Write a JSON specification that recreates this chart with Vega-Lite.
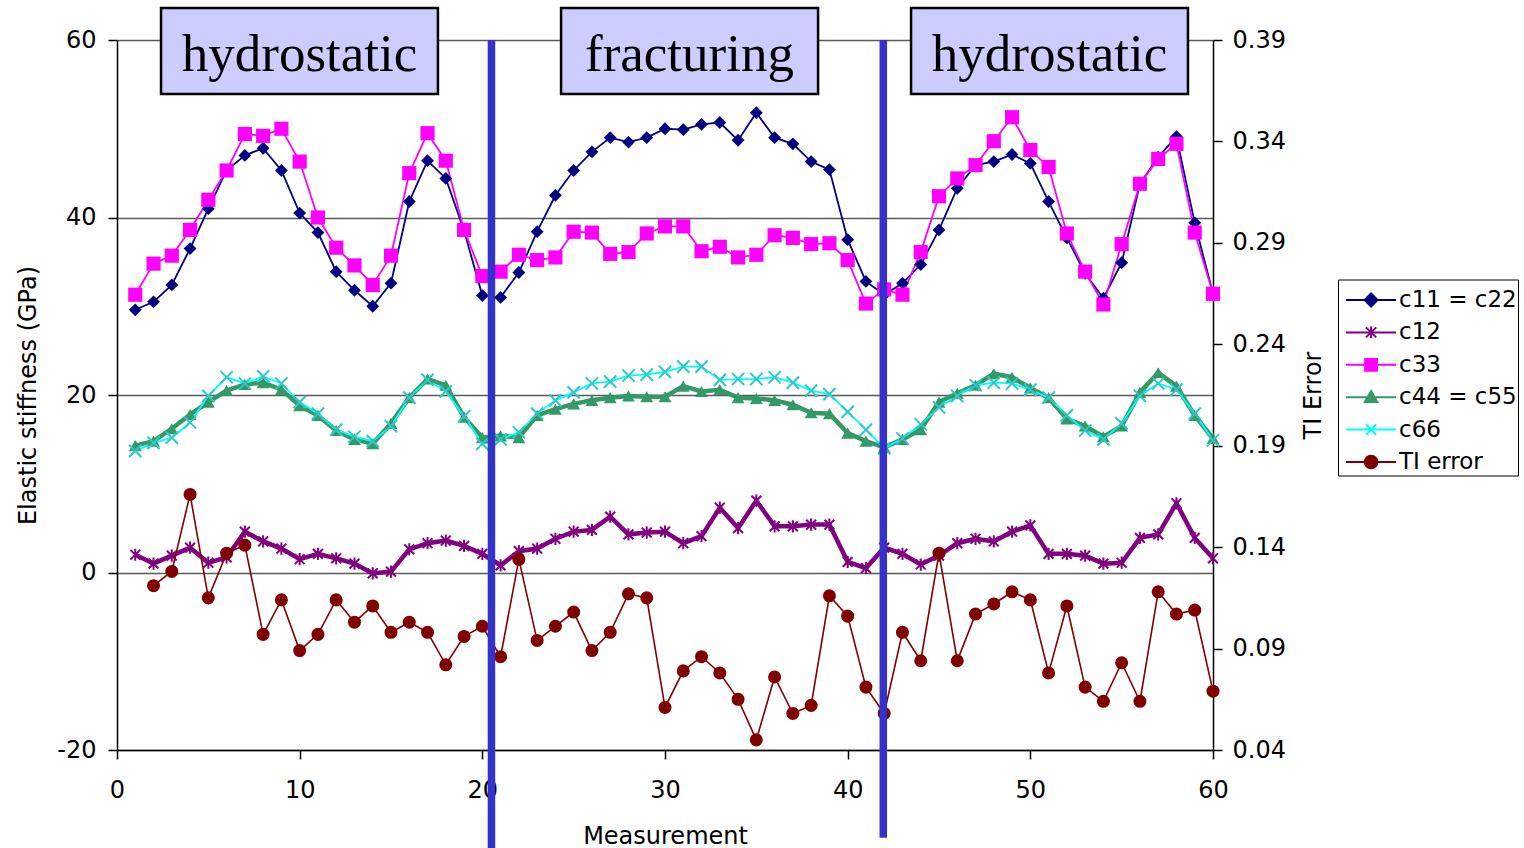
{
  "$schema": "https://vega.github.io/schema/vega-lite/v6.json",
  "width": 1096,
  "height": 710,
  "autosize": {"type": "none"},
  "padding": {"left": 117, "top": 40, "right": 311, "bottom": 98},
  "background": "white",
  "config": {
    "view": {"stroke": null},
    "font": "DejaVu Sans",
    "axis": {
      "labelFont": "DejaVu Sans", "labelFontSize": 24, "labelColor": "black", "labelFlush": false,
      "titleFont": "DejaVu Sans", "titleFontSize": 24, "titleFontWeight": "normal", "titleColor": "black",
      "domainColor": "black", "domainWidth": 1.5, "tickColor": "black", "tickWidth": 1.5, "tickSize": 9
    }
  },
  "datasets": {
    "main": [
      {"m":1,"c11":29.6,"c12":2.0,"c33":31.3,"c44":14.3,"c66":13.7,"ti":null},
      {"m":2,"c11":30.5,"c12":1.0,"c33":34.8,"c44":14.8,"c66":14.6,"ti":0.121},
      {"m":3,"c11":32.4,"c12":1.9,"c33":35.7,"c44":16.2,"c66":15.2,"ti":0.128},
      {"m":4,"c11":36.5,"c12":2.8,"c33":38.6,"c44":17.8,"c66":16.9,"ti":0.166},
      {"m":5,"c11":41.0,"c12":1.1,"c33":42.0,"c44":19.2,"c66":19.9,"ti":0.115},
      {"m":6,"c11":45.3,"c12":1.7,"c33":45.3,"c44":20.5,"c66":22.0,"ti":0.137},
      {"m":7,"c11":47.0,"c12":4.6,"c33":49.4,"c44":21.2,"c66":21.3,"ti":0.141},
      {"m":8,"c11":47.8,"c12":3.5,"c33":49.2,"c44":21.4,"c66":22.1,"ti":0.097},
      {"m":9,"c11":45.3,"c12":2.7,"c33":50.0,"c44":20.6,"c66":21.3,"ti":0.114},
      {"m":10,"c11":40.5,"c12":1.5,"c33":46.3,"c44":18.8,"c66":19.2,"ti":0.089},
      {"m":11,"c11":38.3,"c12":2.1,"c33":40.0,"c44":17.7,"c66":17.9,"ti":0.097},
      {"m":12,"c11":33.9,"c12":1.6,"c33":36.6,"c44":16.0,"c66":16.1,"ti":0.114},
      {"m":13,"c11":31.8,"c12":1.0,"c33":34.6,"c44":15.0,"c66":15.3,"ti":0.103},
      {"m":14,"c11":30.0,"c12":-0.1,"c33":32.4,"c44":14.5,"c66":14.8,"ti":0.111},
      {"m":15,"c11":32.6,"c12":0.1,"c33":35.7,"c44":16.8,"c66":16.5,"ti":0.098},
      {"m":16,"c11":41.8,"c12":2.6,"c33":45.0,"c44":19.7,"c66":19.7,"ti":0.103},
      {"m":17,"c11":46.4,"c12":3.3,"c33":49.5,"c44":21.8,"c66":21.7,"ti":0.098},
      {"m":18,"c11":44.4,"c12":3.6,"c33":46.4,"c44":21.1,"c66":20.4,"ti":0.082},
      {"m":19,"c11":38.5,"c12":3.0,"c33":38.6,"c44":17.5,"c66":17.6,"ti":0.096},
      {"m":20,"c11":31.2,"c12":2.1,"c33":33.4,"c44":15.2,"c66":14.5,"ti":0.101},
      {"m":21,"c11":31.0,"c12":0.8,"c33":33.9,"c44":15.4,"c66":15.0,"ti":0.086},
      {"m":22,"c11":33.8,"c12":2.4,"c33":35.8,"c44":15.2,"c66":15.8,"ti":0.134},
      {"m":23,"c11":38.4,"c12":2.7,"c33":35.2,"c44":17.7,"c66":17.9,"ti":0.094},
      {"m":24,"c11":42.5,"c12":3.8,"c33":35.5,"c44":18.4,"c66":19.4,"ti":0.101},
      {"m":25,"c11":45.3,"c12":4.6,"c33":38.4,"c44":19.0,"c66":20.3,"ti":0.108},
      {"m":26,"c11":47.4,"c12":4.8,"c33":38.3,"c44":19.4,"c66":21.3,"ti":0.089},
      {"m":27,"c11":49.0,"c12":6.3,"c33":35.9,"c44":19.7,"c66":21.5,"ti":0.098},
      {"m":28,"c11":48.5,"c12":4.3,"c33":36.1,"c44":19.9,"c66":22.2,"ti":0.117},
      {"m":29,"c11":49.0,"c12":4.5,"c33":38.2,"c44":19.8,"c66":22.3,"ti":0.115},
      {"m":30,"c11":50.0,"c12":4.6,"c33":39.0,"c44":19.8,"c66":22.6,"ti":0.061},
      {"m":31,"c11":49.9,"c12":3.3,"c33":39.0,"c44":21.0,"c66":23.2,"ti":0.079},
      {"m":32,"c11":50.5,"c12":4.1,"c33":36.2,"c44":20.4,"c66":23.2,"ti":0.086},
      {"m":33,"c11":50.7,"c12":7.3,"c33":36.7,"c44":20.6,"c66":21.7,"ti":0.078},
      {"m":34,"c11":48.7,"c12":5.0,"c33":35.5,"c44":19.7,"c66":21.8,"ti":0.065},
      {"m":35,"c11":51.8,"c12":8.1,"c33":35.8,"c44":19.6,"c66":21.8,"ti":0.045},
      {"m":36,"c11":49.0,"c12":5.2,"c33":38.0,"c44":19.4,"c66":22.0,"ti":0.076},
      {"m":37,"c11":48.3,"c12":5.2,"c33":37.7,"c44":18.9,"c66":21.4,"ti":0.058},
      {"m":38,"c11":46.3,"c12":5.4,"c33":37.0,"c44":18.0,"c66":20.5,"ti":0.062},
      {"m":39,"c11":45.4,"c12":5.4,"c33":37.1,"c44":17.9,"c66":20.1,"ti":0.116},
      {"m":40,"c11":37.5,"c12":1.2,"c33":35.2,"c44":15.7,"c66":18.1,"ti":0.106},
      {"m":41,"c11":32.8,"c12":0.5,"c33":30.3,"c44":14.8,"c66":16.1,"ti":0.071},
      {"m":42,"c11":31.3,"c12":2.8,"c33":31.9,"c44":14.1,"c66":14.0,"ti":0.058},
      {"m":43,"c11":32.6,"c12":2.1,"c33":31.3,"c44":15.0,"c66":15.1,"ti":0.098},
      {"m":44,"c11":34.7,"c12":0.9,"c33":36.1,"c44":16.1,"c66":16.7,"ti":0.084},
      {"m":45,"c11":38.6,"c12":1.9,"c33":42.4,"c44":19.2,"c66":18.6,"ti":0.137},
      {"m":46,"c11":43.3,"c12":3.3,"c33":44.4,"c44":20.2,"c66":19.9,"ti":0.084},
      {"m":47,"c11":45.9,"c12":3.8,"c33":45.9,"c44":21.1,"c66":21.1,"ti":0.107},
      {"m":48,"c11":46.3,"c12":3.5,"c33":48.6,"c44":22.4,"c66":21.4,"ti":0.112},
      {"m":49,"c11":47.1,"c12":4.6,"c33":51.3,"c44":22.0,"c66":21.3,"ti":0.118},
      {"m":50,"c11":46.1,"c12":5.3,"c33":47.6,"c44":20.8,"c66":20.6,"ti":0.114},
      {"m":51,"c11":41.8,"c12":2.1,"c33":45.7,"c44":19.7,"c66":19.7,"ti":0.078},
      {"m":52,"c11":37.7,"c12":2.1,"c33":38.2,"c44":17.3,"c66":17.7,"ti":0.111},
      {"m":53,"c11":33.7,"c12":1.9,"c33":33.9,"c44":16.5,"c66":16.0,"ti":0.071},
      {"m":54,"c11":30.9,"c12":1.0,"c33":30.2,"c44":15.3,"c66":15.0,"ti":0.064},
      {"m":55,"c11":34.9,"c12":1.1,"c33":37.0,"c44":16.5,"c66":16.8,"ti":0.083},
      {"m":56,"c11":43.8,"c12":3.9,"c33":43.8,"c44":20.3,"c66":19.9,"ti":0.064},
      {"m":57,"c11":46.8,"c12":4.3,"c33":46.6,"c44":22.5,"c66":21.3,"ti":0.118},
      {"m":58,"c11":49.1,"c12":7.8,"c33":48.3,"c44":21.0,"c66":20.6,"ti":0.107},
      {"m":59,"c11":39.4,"c12":3.9,"c33":38.3,"c44":17.7,"c66":17.9,"ti":0.109},
      {"m":60,"c11":31.4,"c12":1.6,"c33":31.4,"c44":15.1,"c66":14.9,"ti":0.069}
    ],
    "phases": [
      {"label":"hydrostatic","x1":2.41,"x2":17.57,"xm":9.99,"top":63.6,"bot":53.92,"ty":56.5},
      {"label":"fracturing","x1":24.31,"x2":38.38,"xm":31.34,"top":63.6,"bot":53.92,"ty":56.5},
      {"label":"hydrostatic","x1":43.47,"x2":58.63,"xm":51.05,"top":63.6,"bot":53.92,"ty":56.5}
    ],
    "dividers": [
      {"m":20.5,"top":60,"bot":-31.05},
      {"m":41.95,"top":60,"bot":-29.9}
    ]
  },
  "data": {"name": "main"},
  "layer": [
    {
      "transform": [{"fold": ["c11","c12","c33","c44","c66"], "as": ["key","v"]}],
      "layer": [
        {
          "mark": {"type": "line"},
          "encoding": {
            "x": {"field": "m", "type": "quantitative", "scale": {"domain": [0,60], "nice": false},
                  "axis": {"values": [0,10,20,30,40,50,60], "title": "Measurement", "grid": false, "labelPadding": 19, "titlePadding": 22}},
            "y": {"field": "v", "type": "quantitative", "scale": {"domain": [-20,60], "nice": false},
                  "axis": {"values": [-20,0,20,40,60], "labelExpr": "'' + datum.value", "title": "Elastic stiffness (GPa)", "grid": true, "gridColor": "#5a5a5a", "gridWidth": 1.5,
                           "labelPadding": 12, "titlePadding": 16}},
            "color": {"field": "key", "type": "nominal",
                      "scale": {"domain": ["c11","c12","c33","c44","c66","ti"], "range": ["#000080","#800080","#FF00FF","#339966","#00FFFF","#800000"]},
                      "legend": {
                        "orient": "none", "legendX": 1221, "legendY": 239.5, "title": null,
                        "padding": 1, "strokeColor": "black", "fillColor": "white",
                        "symbolSize": 1369, "symbolStrokeWidth": 2, "rowPadding": 0.4,
                        "labelFont": "DejaVu Sans", "labelFontSize": 23, "labelColor": "black", "labelOffset": 21, "labelLimit": 300,
                        "labelExpr": "datum.label=='c11'?'c11 = c22':datum.label=='c44'?'c44 = c55':datum.label=='ti'?'TI error':datum.label",
                        "encode": {"symbols": {"update": {
                          "shape": {"signal": "datum.value=='c11'?'M-0.68,0H2.03M0.68,-0.35L1.03,0L0.68,0.35L0.33,0Z':datum.value=='c12'?'M-0.68,0H2.03M0.68,-0.32V0.32M0.4,-0.27L0.96,0.27M0.4,0.27L0.96,-0.27':datum.value=='c33'?'M-0.68,0H2.03M0.36,-0.32H1.0V0.32H0.36Z':datum.value=='c44'?'M-0.68,0H2.03M0.68,-0.34L1.02,0.26L0.34,0.26Z':datum.value=='c66'?'M-0.68,0H2.03M0.41,-0.28L0.95,0.28M0.41,0.28L0.95,-0.28':'M-0.68,0H2.03M0.34,0A0.34,0.34 0 1 0 1.02,0A0.34,0.34 0 1 0 0.34,0Z'"},
                          "fill": {"scale": "color", "field": "value"},
                          "stroke": {"scale": "color", "field": "value"}
                        }}}
                      }},
            "strokeWidth": {"condition": {"test": "datum.key==='c12'||datum.key==='c44'", "value": 4.5}, "value": 1.8}
          }
        },
        {
          "transform": [{"filter": {"field": "key", "oneOf": ["c11","c33","c44"]}}],
          "mark": {"type": "point", "filled": true, "opacity": 1},
          "encoding": {
            "x": {"field": "m", "type": "quantitative"},
            "y": {"field": "v", "type": "quantitative"},
            "color": {"field": "key", "type": "nominal", "legend": null},
            "shape": {"field": "key", "type": "nominal", "scale": {"domain": ["c11","c33","c44"], "range": ["diamond","square","triangle-up"]}, "legend": null},
            "size": {"condition": {"test": "datum.key==='c33'", "value": 200}, "value": 165}
          }
        },
        {
          "transform": [{"filter": {"field": "key", "oneOf": ["c12","c66"]}}],
          "mark": {"type": "point", "filled": false, "opacity": 1, "strokeWidth": 2},
          "encoding": {
            "x": {"field": "m", "type": "quantitative"},
            "y": {"field": "v", "type": "quantitative"},
            "color": {"field": "key", "type": "nominal", "legend": null,
                      "condition": {"test": "datum.key==='c66'", "value": "#2EC8C8"}},
            "shape": {"value": "M0,-1V1M-0.8,-0.8L0.8,0.8M-0.8,0.8L0.8,-0.8",
                      "condition": {"test": "datum.key==='c66'", "value": "M-1,-1L1,1M-1,1L1,-1"}},
            "size": {"value": 150}
          }
        }
      ]
    },
    {
      "layer": [
        {
          "mark": {"type": "line", "strokeWidth": 1.6},
          "encoding": {
            "x": {"field": "m", "type": "quantitative"},
            "y": {"field": "ti", "type": "quantitative", "scale": {"domain": [0.04,0.39], "nice": false, "zero": false},
                  "axis": {"orient": "right", "values": [0.04,0.09,0.14,0.19,0.24,0.29,0.34,0.39], "format": ".2f", "title": "TI Error",
                           "labelPadding": 10, "titlePadding": 16, "titleAngle": 270, "titleBaseline": "top", "grid": false}},
            "color": {"datum": "ti", "type": "nominal", "legend": null}
          }
        },
        {
          "mark": {"type": "point", "filled": true, "opacity": 1, "shape": "circle", "size": 170},
          "encoding": {
            "x": {"field": "m", "type": "quantitative"},
            "y": {"field": "ti", "type": "quantitative"},
            "color": {"datum": "ti", "type": "nominal", "legend": null}
          }
        }
      ]
    },
    {
      "layer": [
        {
          "data": {"name": "dividers"},
          "mark": {"type": "rule", "color": "#3333CC", "strokeWidth": 7.5},
          "encoding": {
            "x": {"field": "m", "type": "quantitative"},
            "y": {"field": "top", "type": "quantitative", "scale": {"domain": [-20,60], "nice": false}, "axis": null},
            "y2": {"field": "bot"}
          }
        },
        {
          "data": {"name": "phases"},
          "mark": {"type": "rect", "fill": "#CCCCFF", "stroke": "black", "strokeWidth": 2.5},
          "encoding": {
            "x": {"field": "x1", "type": "quantitative"},
            "x2": {"field": "x2"},
            "y": {"field": "top", "type": "quantitative"},
            "y2": {"field": "bot"}
          }
        },
        {
          "data": {"name": "phases"},
          "mark": {"type": "text", "font": "Liberation Serif", "fontSize": 53, "color": "black", "align": "center", "baseline": "alphabetic"},
          "encoding": {
            "x": {"field": "xm", "type": "quantitative"},
            "y": {"field": "ty", "type": "quantitative"},
            "text": {"field": "label"}
          }
        }
      ]
    }
  ],
  "resolve": {"scale": {"y": "independent"}}
}
